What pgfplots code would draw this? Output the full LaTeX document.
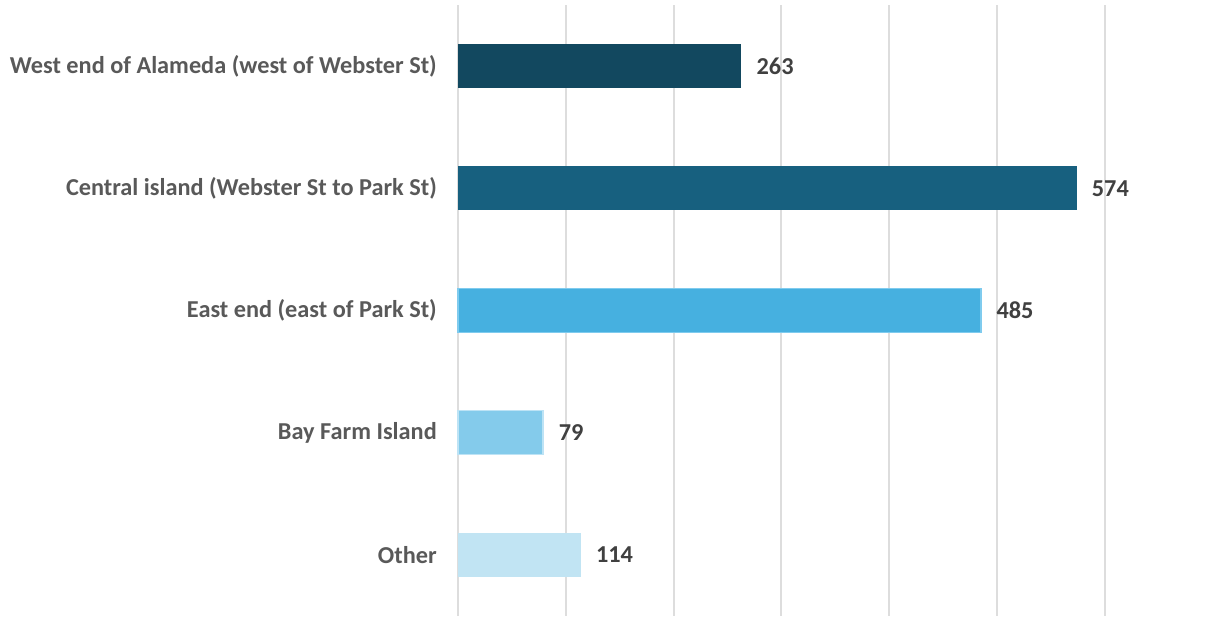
\documentclass[border=0pt]{standalone}
\usepackage{pgfplots}
\pgfplotsset{compat=1.18}
\usepackage{fontspec}
\setmainfont{Carlito}
\definecolor{c1}{HTML}{12485F}
\definecolor{c2}{HTML}{17607F}
\definecolor{c3}{HTML}{46B0E0}
\definecolor{c3e}{HTML}{7FCBEE}
\definecolor{c4}{HTML}{84CBEB}
\definecolor{c4e}{HTML}{BDE3F5}
\definecolor{c5}{HTML}{C1E4F3}
\definecolor{lab}{HTML}{595959}
\definecolor{val}{HTML}{404040}
\definecolor{gridc}{HTML}{DDDDDD}
\begin{document}
\begin{tikzpicture}
\begin{axis}[
  scale only axis,
  width=750bp, height=611bp,
  xmin=0, xmax=695.7,
  ymin=-0.5, ymax=4.5,
  xbar, bar width=44bp, bar shift=0pt,
  axis line style={draw=none},
  xtick={0,100,...,600},
  xticklabels={},
  xmajorgrids=true, ymajorgrids=false,
  x grid style={draw=gridc, line width=2bp},
  major tick length=0pt,
  ytick={0,1,2,3,4},
  yticklabels={Other, Bay Farm Island, East end (east of Park St), Central island (Webster St to Park St), West end of Alameda (west of Webster St)},
  yticklabel style={font=\fontsize{24.3bp}{28bp}\selectfont\bfseries, text=lab, inner sep=0pt, xshift=-21bp},
  /pgf/number format/assume math mode=true,
  nodes near coords,
  every node near coord/.append style={font=\fontsize{24.3bp}{28bp}\selectfont\bfseries, text=val, anchor=west, inner sep=0pt, xshift=15bp},
  clip=false,
]
\addplot[fill=c1, draw=none] coordinates {(263,4)};
\addplot[fill=c2, draw=none] coordinates {(574,3)};
\addplot[fill=c3, draw=c3e, line width=1.5bp] coordinates {(485,2)};
\addplot[fill=c4, draw=c4e, line width=1.5bp] coordinates {(79,1)};
\addplot[fill=c5, draw=none] coordinates {(114,0)};
\end{axis}
\path ([xshift=-458bp]current axis.south west) rectangle ([yshift=5bp]current axis.north east);
\end{tikzpicture}
\end{document}
